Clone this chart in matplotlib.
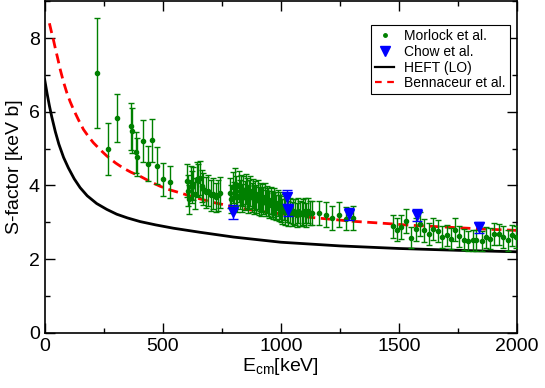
import matplotlib
matplotlib.use("Agg")
import matplotlib.pyplot as plt
from matplotlib.lines import Line2D
from matplotlib.ticker import MultipleLocator

plt.rcParams["font.family"] = ["Liberation Sans", "DejaVu Sans"]
plt.rcParams["mathtext.fontset"] = "custom"
plt.rcParams["mathtext.rm"] = "Liberation Sans"

# Morlock et al. data (E_cm in keV, S in keV b, error)
morlock_e = [221, 267, 305, 364, 370, 386, 389, 418, 436, 456, 474, 502, 531,
             604, 608, 612, 618, 622, 629, 636, 644, 650, 657, 664, 672, 683, 693,
             703, 714, 725, 735, 742,
             785, 790, 796, 801, 806, 811, 816, 821, 826, 831, 836, 841, 846, 851,
             856, 861, 866, 871, 876, 881, 886, 891, 896, 901, 906, 911, 916, 921,
             926, 931, 936, 941, 946, 951, 956, 961, 966, 971, 976, 981, 986, 991,
             996, 1001, 1006, 1012, 1018, 1024, 1031, 1038, 1045, 1052, 1059, 1066,
             1073, 1080, 1088, 1095, 1101, 1108, 1115, 1122, 1130,
             1162, 1189, 1217, 1245, 1274, 1303,
             1475, 1493, 1510, 1531, 1550, 1570, 1588, 1606, 1626, 1644, 1663, 1681,
             1701, 1719, 1736, 1754, 1774, 1792, 1811, 1827, 1849, 1867, 1884, 1902,
             1922, 1940, 1961, 1978, 1994]
morlock_s = [7.05, 4.99, 5.83, 5.60, 5.49, 4.90, 4.77, 5.20, 4.59, 5.22, 4.53, 4.17, 4.10,
             4.13, 3.86, 3.62, 4.09, 3.95, 4.05, 3.78, 4.18, 4.13, 4.20, 3.98, 3.91, 3.82, 3.86,
             3.73, 3.78, 3.68, 3.73, 3.80,
             3.80, 3.62, 3.95, 3.70, 4.05, 3.85, 3.68, 3.98, 3.75, 3.88, 3.65, 3.86, 3.72, 3.90,
             3.80, 3.62, 3.75, 3.85, 3.68, 3.78, 3.60, 3.72, 3.64, 3.76, 3.58, 3.68, 3.55, 3.66,
             3.59, 3.70, 3.52, 3.62, 3.55, 3.48, 3.60, 3.50, 3.44, 3.56, 3.46, 3.40, 3.52, 3.38,
             3.45, 3.36, 3.30, 3.42, 3.28, 3.35, 3.25, 3.32, 3.22, 3.30, 3.28, 3.20,
             3.32, 3.24, 3.23, 3.28, 3.31, 3.20, 3.32, 3.26, 3.25,
             3.25, 3.21, 3.12, 3.21, 3.10, 3.12,
             2.89, 2.80, 2.87, 3.03, 2.58, 2.81, 2.95, 2.78, 2.68, 2.82, 2.76, 2.60,
             2.65, 2.56, 2.80, 2.62, 2.53, 2.49, 2.51, 2.51, 2.49, 2.59, 2.56, 2.69,
             2.67, 2.60, 2.51, 2.65, 2.60]
morlock_err = [1.50, 0.70, 0.65, 0.63, 0.60, 0.55, 0.52, 0.57, 0.48, 0.57, 0.50, 0.45, 0.44,
               0.45, 0.42, 0.40, 0.45, 0.43, 0.44, 0.41, 0.46, 0.45, 0.46, 0.44, 0.43, 0.42, 0.42,
               0.41, 0.41, 0.40, 0.41, 0.42,
               0.40, 0.38, 0.42, 0.39, 0.43, 0.41, 0.39, 0.42, 0.40, 0.41, 0.38, 0.41, 0.39, 0.41,
               0.40, 0.38, 0.39, 0.40, 0.39, 0.40, 0.38, 0.39, 0.38, 0.39, 0.37, 0.38, 0.37, 0.38,
               0.37, 0.38, 0.36, 0.37, 0.37, 0.36, 0.37, 0.36, 0.35, 0.37, 0.36, 0.35, 0.36, 0.35,
               0.36, 0.35, 0.34, 0.35, 0.34, 0.35, 0.34, 0.34, 0.33, 0.34, 0.34, 0.33,
               0.34, 0.33, 0.33, 0.34, 0.34, 0.33, 0.34, 0.33, 0.33,
               0.33, 0.33, 0.32, 0.33, 0.32, 0.32,
               0.32, 0.31, 0.32, 0.33, 0.29, 0.31, 0.32, 0.31, 0.30, 0.31, 0.30, 0.29,
               0.29, 0.28, 0.31, 0.29, 0.28, 0.27, 0.28, 0.28, 0.27, 0.28, 0.28, 0.30,
               0.29, 0.29, 0.28, 0.29, 0.29]

# Chow et al. data
chow_e = [796, 1027, 1031, 1289, 1574, 1837]
chow_s = [3.28, 3.68, 3.34, 3.23, 3.19, 2.86]
chow_err = [0.19, 0.19, 0.16, 0.17, 0.16, 0.14]

# HEFT (LO) curve
heft_e = [0, 10, 20, 30, 45, 60, 80, 100, 125, 150, 180, 220, 263, 305, 350, 404,
          470, 545, 657, 800, 1000, 1250, 1500, 1750, 2000]
heft_s = [6.87, 6.50, 6.16, 5.86, 5.46, 5.12, 4.76, 4.48, 4.18, 3.94, 3.72, 3.51,
          3.35, 3.22, 3.12, 3.02, 2.93, 2.84, 2.73, 2.60, 2.46, 2.36, 2.29, 2.24, 2.20]

# Bennaceur et al. curve
benn_e = [20, 28, 37, 45, 55, 66, 80, 94, 108, 122, 143, 164, 185, 206, 235, 263, 300,
          333, 365, 404, 445, 488, 530, 573, 643, 720, 830, 910, 1000, 1100, 1200, 1300,
          1420, 1550, 1700, 1850, 2000]
benn_s = [8.40, 8.18, 7.95, 7.72, 7.45, 7.14, 6.80, 6.51, 6.27, 6.06, 5.78, 5.52, 5.33,
          5.16, 4.97, 4.80, 4.61, 4.47, 4.36, 4.25, 4.11, 3.98, 3.88, 3.80, 3.66, 3.53,
          3.38, 3.30, 3.23, 3.15, 3.09, 3.03, 2.98, 2.92, 2.87, 2.82, 2.78]

fig = plt.figure(figsize=(5.45, 3.88), dpi=100)
ax = fig.add_axes([0.082, 0.142, 0.867, 0.855])

ax.plot(heft_e, heft_s, color="black", lw=2.0, zorder=2)
ax.plot(benn_e, benn_s, color="red", lw=2.0, ls=(0, (3.6, 2.0)), zorder=2)

ax.errorbar(morlock_e, morlock_s, yerr=morlock_err, fmt="o", color="green", ms=3,
            elinewidth=1.0, capsize=2.3, capthick=1.0, zorder=3)
ax.errorbar(chow_e, chow_s, yerr=chow_err, fmt="v", color="blue", ms=7,
            elinewidth=1.0, capsize=3.5, capthick=1.0, zorder=4)

ax.set_xlim(0, 2000)
ax.set_ylim(0, 9)
ax.xaxis.set_major_locator(MultipleLocator(500))
ax.xaxis.set_minor_locator(MultipleLocator(250))
ax.yaxis.set_major_locator(MultipleLocator(2))
ax.yaxis.set_minor_locator(MultipleLocator(1))
ax.tick_params(which="both", direction="in", top=True, right=True, labelsize=14)
ax.tick_params(which="major", length=7, width=1)
ax.tick_params(which="minor", length=3.5, width=1)
for sp in ax.spines.values():
    sp.set_linewidth(1.2)

ax.set_xlabel(r"E$_{\rm cm}$[keV]", fontsize=14, labelpad=1)
ax.set_ylabel("S-factor [keV b]", fontsize=14, labelpad=4)

handles = [
    Line2D([], [], ls="none", marker="o", color="green", ms=2.5),
    Line2D([], [], ls="none", marker="v", color="blue", ms=6.5),
    Line2D([], [], color="black", lw=1.6),
    Line2D([], [], color="red", lw=1.6, ls=(0, (3, 2.5))),
]
labels = ["Morlock et al.", "Chow et al.", "HEFT (LO)", "Bennaceur et al."]
leg = ax.legend(handles, labels, loc="upper right", bbox_to_anchor=(0.984, 0.928),
                borderaxespad=0, fontsize=10, fancybox=False, framealpha=1,
                edgecolor="black", handlelength=1.4, handletextpad=0.7,
                borderpad=0.3, labelspacing=0.12)
leg.get_frame().set_linewidth(0.8)

fig.savefig("out.png", dpi=100)
